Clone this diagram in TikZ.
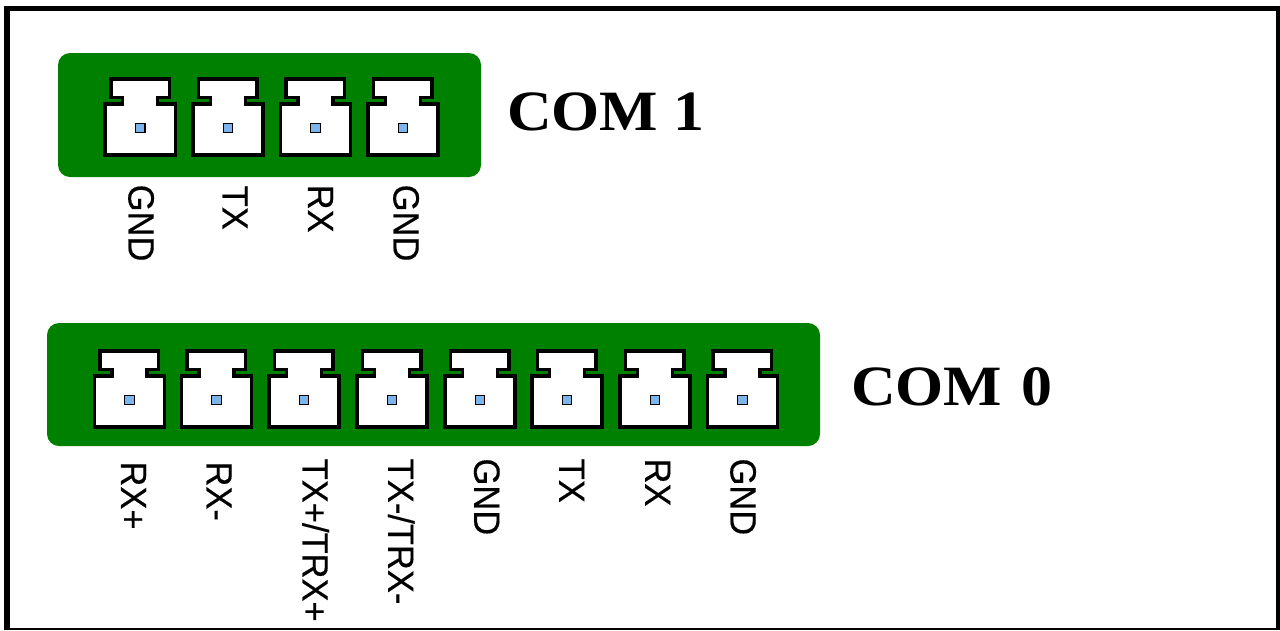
\documentclass[tikz,border=0pt]{standalone}
\usepackage{fontspec}
\setmainfont{Liberation Sans}[FakeBold=0.35,RawFeature=-kern]
\newfontfamily\comfont{Liberation Serif}
\definecolor{boardgreen}{RGB}{0,128,0}
\definecolor{pinblue}{RGB}{125,180,235}
\tikzset{
  board/.style={fill=boardgreen,draw=none,rounded corners=12pt},
  housing/.style={draw=black,fill=white,line width=3.5pt,miter limit=10},
  pin/.style={draw=black,fill=pinblue,line width=1.4pt},
  pinlabel/.style={rotate=-90,anchor=base west,inner sep=0pt,font=\fontsize{34.5}{34.5}\selectfont},
  comlabel/.style={anchor=base west,inner sep=0pt,font=\comfont\bfseries\fontsize{57}{57}\selectfont}
}
\newcommand{\jack}[2]{%
  \begin{scope}[shift={(#1,#2)}]
    \draw[housing] (-29.5,-49) -- (29.2,-49) -- (29.2,-30.7) -- (17.4,-30.7) -- (17.4,-23.8) -- (35.2,-23.8) -- (35.2,27.2) -- (-35.2,27.2) -- (-35.2,-23.8) -- (-17.6,-23.8) -- (-17.6,-30.7) -- (-29.5,-30.7) -- cycle;
    \draw[pin] (-4.75,-4.75) rectangle (4.75,4.75);
  \end{scope}}
\newcommand{\plabel}[4]{\node[pinlabel] (#1) at (#2+2.5,#3) {\scalebox{1}[1.06]{#4}};}
\begin{document}
\begin{tikzpicture}[x=1pt,y=-1pt]
\useasboundingbox (0,0) rectangle (1280,630);
\fill[white] (0,0) rectangle (1280,630);
% frame
\fill[black] (4,6) rectangle (1280,11);
\fill[black] (4,6) rectangle (10,630);
\fill[black] (1276,6) rectangle (1280,630);
\fill[black] (4,628) rectangle (1280,630);
% boards
\fill[board] (58,53) rectangle (481,177);
\fill[board] (47,323) rectangle (820,446);
% COM 1
\foreach \x in {140.3,228,315.5,403}{\jack{\x}{128}}
% COM 0
\foreach \x in {129.5,216.5,304,392,480,567,655,742.5}{\jack{\x}{400}}
% labels
\plabel{a1}{126}{184.5}{GND}
\plabel{a2}{220}{185.5}{TX}
\plabel{a3}{305.5}{184.5}{RX}
\plabel{a4}{391}{184.5}{GND}
\plabel{b1}{118.5}{461.3}{RX+}
\plabel{b2}{204}{461.3}{RX-}
\plabel{b3}{300}{458.5}{TX+/TRX+}
\plabel{b4}{385.7}{458.5}{TX-/TRX-}
\plabel{b5}{471.7}{458.3}{GND}
\plabel{b6}{556.7}{458.5}{TX}
\plabel{b7}{642.7}{458.3}{RX}
\plabel{b8}{728}{458.3}{GND}
\node[comlabel] (com1) at (507,130) {\scalebox{1.085}[1]{COM 1}};
\node[comlabel] (com0) at (851,405.7) {\scalebox{1.085}[1]{COM\kern3.5pt\ 0}};
\end{tikzpicture}
\end{document}
